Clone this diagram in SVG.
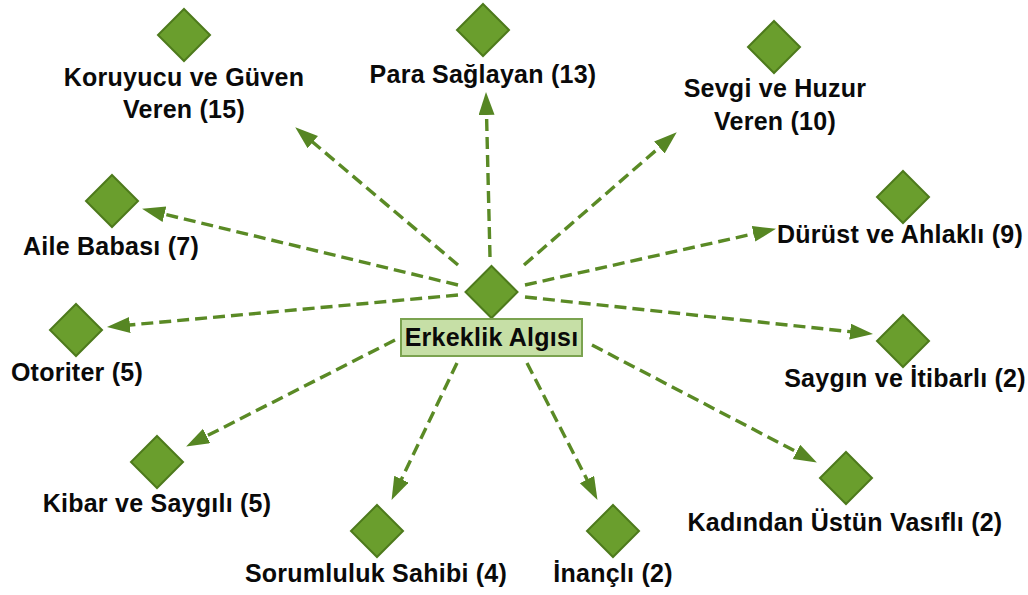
<svg xmlns="http://www.w3.org/2000/svg" xmlns:xlink="http://www.w3.org/1999/xlink" width="1028" height="595" viewBox="0 0 1028 595">
<style>
.lbl{font-family:"Liberation Sans",Arial,sans-serif;font-weight:bold;font-size:25px;letter-spacing:0.25px;fill:#0a0a0a;text-anchor:middle}
.dia{fill:#6a9e2d;stroke:#4d7a1c;stroke-width:2;stroke-linejoin:miter}
.edge{fill:none;stroke:#5a8a25;stroke-width:3.4;stroke-dasharray:12 6}
.box{fill:#c6dfa6;stroke:#7ba350;stroke-width:2}
</style>
<defs>
<polygon id="dm" class="dia" points="0,-26 26,0 0,26 -26,0"/>
<marker id="ah" markerUnits="userSpaceOnUse" markerWidth="26" markerHeight="18" refX="6" refY="8" orient="auto">
<path d="M0,0 L23,8 L0,16 Z" fill="#568623"/>
</marker>
</defs>
<rect width="1028" height="595" fill="#ffffff"/>
<g id="connectors">
<line class="edge" x1="458" y1="265" x2="308.2" y2="138.3" marker-end="url(#ah)"/>
<line class="edge" x1="490" y1="257" x2="486.4" y2="109" marker-end="url(#ah)"/>
<line class="edge" x1="524" y1="265" x2="663.9" y2="143.5" marker-end="url(#ah)"/>
<line class="edge" x1="458" y1="285" x2="158.6" y2="212.8" marker-end="url(#ah)"/>
<line class="edge" x1="525" y1="285" x2="759.4" y2="232.5" marker-end="url(#ah)"/>
<line class="edge" x1="458" y1="295" x2="123.9" y2="325.5" marker-end="url(#ah)"/>
<line class="edge" x1="525" y1="297" x2="856.1" y2="332.3" marker-end="url(#ah)"/>
<line class="edge" x1="395" y1="340" x2="201.3" y2="438.7" marker-end="url(#ah)"/>
<line class="edge" x1="457" y1="363" x2="398.9" y2="484.6" marker-end="url(#ah)"/>
<line class="edge" x1="527" y1="363" x2="589.7" y2="484.8" marker-end="url(#ah)"/>
<line class="edge" x1="592" y1="345" x2="801.8" y2="454.6" marker-end="url(#ah)"/>
</g>
<g id="center">
<use href="#dm" x="491.5" y="292"/>
<rect class="box" x="401" y="319" width="181" height="37"/>
<text class="lbl" x="491.5" y="346">Erkeklik Algısı</text>
</g>
<g id="koruyucu">
<use href="#dm" x="184" y="35"/>
<text class="lbl" x="184" y="86">Koruyucu ve Güven</text>
<text class="lbl" x="184" y="118">Veren (15)</text>
</g>
<g id="para">
<use href="#dm" x="483" y="30"/>
<text class="lbl" x="483" y="83">Para Sağlayan (13)</text>
</g>
<g id="sevgi">
<use href="#dm" x="774" y="47"/>
<text class="lbl" x="775" y="97">Sevgi ve Huzur</text>
<text class="lbl" x="775" y="130">Veren (10)</text>
</g>
<g id="aile">
<use href="#dm" x="112" y="201"/>
<text class="lbl" x="111" y="255">Aile Babası (7)</text>
</g>
<g id="durust">
<use href="#dm" x="903" y="197"/>
<text class="lbl" x="900" y="243">Dürüst ve Ahlaklı (9)</text>
</g>
<g id="otoriter">
<use href="#dm" x="76" y="330"/>
<text class="lbl" x="77" y="381">Otoriter (5)</text>
</g>
<g id="saygin">
<use href="#dm" x="903" y="341"/>
<text class="lbl" x="905" y="387">Saygın ve İtibarlı (2)</text>
</g>
<g id="kibar">
<use href="#dm" x="157" y="462"/>
<text class="lbl" x="157" y="512">Kibar ve Saygılı (5)</text>
</g>
<g id="sorumluluk">
<use href="#dm" x="377" y="531"/>
<text class="lbl" x="376" y="582">Sorumluluk Sahibi (4)</text>
</g>
<g id="inancli">
<use href="#dm" x="613" y="531"/>
<text class="lbl" x="613" y="582">İnançlı (2)</text>
</g>
<g id="kadindan">
<use href="#dm" x="846" y="478"/>
<text class="lbl" x="845" y="531">Kadından Üstün Vasıflı (2)</text>
</g>
</svg>
